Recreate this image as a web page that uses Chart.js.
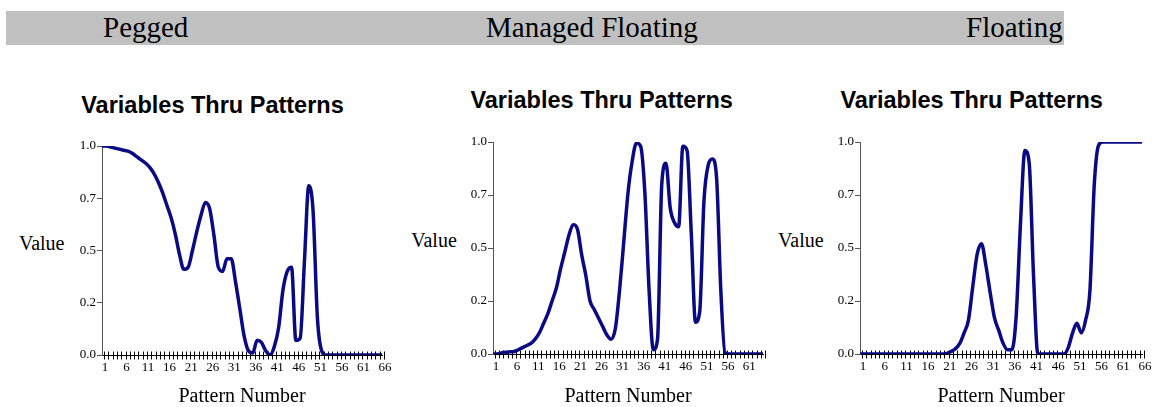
<!DOCTYPE html>
<html>
<head>
<meta charset="utf-8">
<script src="https://cdn.jsdelivr.net/npm/chart.js@4.4.1/dist/chart.umd.min.js"></script>
<style>
  html, body { margin:0; padding:0; background:#fff; }
  body { width:1158px; height:407px; position:relative; overflow:hidden; }
  .banner { position:absolute; left:6px; top:11px; width:1058px; height:34px; background:#c0c0c0; }
  .bt { position:absolute; font-family:"Liberation Serif", serif; font-size:29px; line-height:29px; top:12.7px; color:#000; white-space:nowrap; }
  .title { position:absolute; font-family:"Liberation Sans", Arial, sans-serif; font-weight:bold; font-size:23.5px; line-height:23.5px; color:#000; white-space:nowrap; transform:translateX(-50%); }
  .val { position:absolute; font-family:"Liberation Serif", serif; font-size:20px; line-height:20px; color:#000; white-space:nowrap; transform:translateX(-50%); }
  canvas { position:absolute; }
</style>
</head>
<body>
<div class="banner"></div>
<div class="bt" style="left:103px">Pegged</div>
<div class="bt" style="left:486px">Managed Floating</div>
<div class="bt" style="left:966px">Floating</div>

<div class="title" style="left:212.5px; top:94.4px">Variables Thru Patterns</div>
<div class="title" style="left:601.7px; top:89.4px">Variables Thru Patterns</div>
<div class="title" style="left:971.7px; top:89.4px">Variables Thru Patterns</div>

<div class="val" style="left:41.7px; top:232.5px">Value</div>
<div class="val" style="left:434px; top:230px">Value</div>
<div class="val" style="left:800.8px; top:230px">Value</div>

<canvas id="c1" width="400" height="287" style="left:0px; top:120px"></canvas>
<canvas id="c2" width="380" height="287" style="left:400px; top:120px"></canvas>
<canvas id="c3" width="378" height="287" style="left:780px; top:120px"></canvas>

<script>
// ---- data ----
const patterns66 = ["1","2","3","4","5","6","7","8","9","10","11","12","13","14","15","16","17","18","19","20","21","22","23","24","25","26","27","28","29","30","31","32","33","34","35","36","37","38","39","40","41","42","43","44","45","46","47","48","49","50","51","52","53","54","55","56","57","58","59","60","61","62","63","64","65","66"];
const patterns65 = ["1","2","3","4","5","6","7","8","9","10","11","12","13","14","15","16","17","18","19","20","21","22","23","24","25","26","27","28","29","30","31","32","33","34","35","36","37","38","39","40","41","42","43","44","45","46","47","48","49","50","51","52","53","54","55","56","57","58","59","60","61","62","63","64","65"];

const peggedValues = [1.00,1.00,0.995,0.99,0.985,0.98,0.975,0.965,0.95,0.935,0.92,0.90,0.87,0.83,0.78,0.72,0.66,0.58,0.48,0.41,0.42,0.50,0.59,0.67,0.73,0.70,0.57,0.42,0.40,0.46,0.46,0.35,0.22,0.09,0.02,0.01,0.07,0.06,0.02,0.0,0.04,0.13,0.31,0.40,0.42,0.07,0.08,0.45,0.81,0.69,0.18,0.02,0,0,0,0,0,0,0,0,0,0,0,0,0,0];
const managedValues = [0.0,0.0,0.005,0.008,0.01,0.012,0.02,0.03,0.04,0.05,0.07,0.10,0.145,0.19,0.25,0.31,0.40,0.48,0.56,0.61,0.59,0.47,0.37,0.25,0.21,0.17,0.13,0.09,0.07,0.12,0.30,0.53,0.76,0.91,0.995,0.98,0.76,0.30,0.02,0.07,0.80,0.90,0.69,0.62,0.60,0.98,0.96,0.57,0.15,0.20,0.72,0.89,0.92,0.83,0.30,0.005,0,0,0,0,0,0,0,0,0];
const floatingValues = [0,0,0,0,0,0,0,0,0,0,0,0,0,0,0,0,0,0,0,0,0.003,0.012,0.025,0.05,0.10,0.16,0.32,0.47,0.52,0.42,0.29,0.17,0.11,0.05,0.02,0.02,0.18,0.62,0.96,0.90,0.37,0.0,0,0,0,0,0,0,0.03,0.10,0.145,0.10,0.16,0.30,0.80,0.985,1.0,1.0,1.0,1.0,1.0,1.0,1.0,1.0,1.0,1.0];

const yTickValues = [0, 0.25, 0.5, 0.75, 1.0];
const yTickLabels = ["0.0", "0.2", "0.5", "0.7", "1.0"];
const xLabelEvery = 5;

const crossTicks = {
  id: 'crossTicks',
  beforeDatasetsDraw(chart) {
    const xs = chart.scales.x;
    const y0 = Math.round(chart.scales.y.getPixelForValue(0)) + 0.5;
    const ctx = chart.ctx;
    ctx.save();
    ctx.strokeStyle = '#000';
    ctx.lineWidth = 1;
    ctx.beginPath();
    for (let i = 0; i < xs.ticks.length; i++) {
      const x = Math.round(xs.getPixelForTick(i)) + 2.5;
      ctx.moveTo(x, y0 - 4);
      ctx.lineTo(x, y0 + 4);
    }
    ctx.stroke();
    ctx.restore();
  }
};

function makeChart(id, labels, values, yAxisWidth, xAxisHeight, padTop, padRight) {
  return new Chart(document.getElementById(id), {
    type: 'line',
    data: {
      labels: labels,
      datasets: [{
        data: values,
        borderColor: '#0a0a84',
        borderWidth: 3.5,
        pointRadius: 0,
        cubicInterpolationMode: 'monotone',
        fill: false
      }]
    },
    options: {
      responsive: false,
      animation: false,
      events: [],
      layout: { padding: { top: padTop, right: padRight, left: 0, bottom: 0 } },
      plugins: { legend: { display: false }, title: { display: false }, tooltip: { enabled: false } },
      scales: {
        x: {
          type: 'category',
          offset: false,
          grid: { display: true, drawOnChartArea: false, drawTicks: false },
          border: { display: true, color: '#000', width: 1 },
          ticks: {
            autoSkip: false, maxRotation: 0, minRotation: 0, padding: 5, labelOffset: 3,
            color: '#000',
            font: { family: 'Liberation Serif', size: 13 },
            callback: function(v, i) { return i % xLabelEvery === 0 ? labels[i] : ''; }
          },
          title: {
            display: true, text: 'Pattern Number', color: '#000',
            font: { family: 'Liberation Serif', size: 20, lineHeight: 1 },
            padding: 0
          },
          afterFit: function(s) { s.height = xAxisHeight; s.paddingLeft = 0; s.paddingRight = 0; }
        },
        y: {
          min: 0, max: 1,
          afterBuildTicks: function(s) { s.ticks = yTickValues.map(v => ({ value: v })); },
          grid: { display: true, drawOnChartArea: false, drawTicks: true, tickLength: 5, color: '#555' },
          border: { display: true, color: '#555', width: 1 },
          ticks: {
            padding: 1, color: '#000',
            font: { family: 'Liberation Serif', size: 13 },
            callback: function(v) { const k = yTickValues.indexOf(v); return k >= 0 ? yTickLabels[k] : ''; }
          },
          afterFit: function(s) { s.width = yAxisWidth; s.paddingTop = 0; s.paddingBottom = 0; }
        }
      }
    },
    plugins: [crossTicks]
  });
}

makeChart('c1', patterns66, peggedValues, 102, 52, 26, 18);
makeChart('c2', patterns65, managedValues, 93, 53, 22, 17);
makeChart('c3', patterns66, floatingValues, 80, 53, 22, 16);
</script>
</body>
</html>
